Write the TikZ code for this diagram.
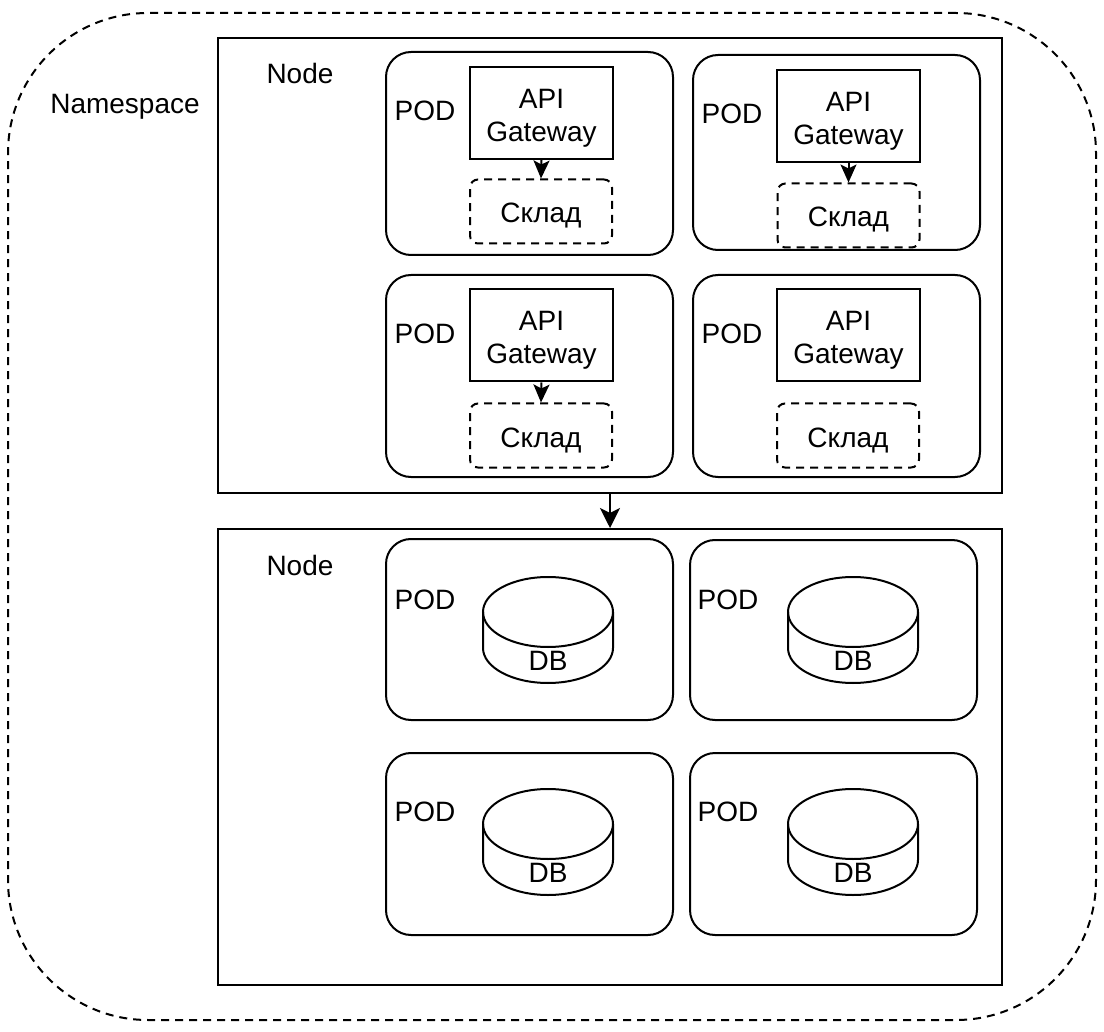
\documentclass[tikz,border=0pt]{standalone}
\usepackage{fontspec}
\setmainfont{Liberation Sans}
\usetikzlibrary{fit,arrows.meta}

\begin{document}
\begin{tikzpicture}[x=0.5pt,y=-0.5pt,line width=1pt,font=\fontsize{14}{16.5}\selectfont,
  nsbox/.style={draw,dash pattern=on 4pt off 3pt,rounded corners=70pt,inner sep=0pt},
  nodebox/.style={draw,inner sep=0pt},
  podbox/.style={draw,rounded corners=12.5pt,inner sep=0pt},
  gwbox/.style={draw,inner sep=0pt,minimum width=71.5pt,minimum height=46pt,
    label={[align=center,yshift=-2.5pt]center:API\\Gateway}},
  storebox/.style={draw,dash pattern=on 4pt off 3pt,rounded corners=4pt,inner sep=0pt,minimum width=71pt,minimum height=32pt,text height=11.5pt,text depth=0pt},
  smallarr/.style={-{Stealth[length=9pt,width=8pt,inset=2pt]}},
  bigarr/.style={-{Stealth[length=10pt,width=10pt,inset=2.5pt]}}]
\useasboundingbox (0,0) rectangle (1104,1032);
% namespace and the two nodes
\node[nsbox,fit={(8,13)(1096,1020)}] (ns) {};
\node at (125,107) {Namespace};
\node[nodebox,fit={(218,38)(1002,493)}] (nd1) {};
\node[nodebox,fit={(218,529)(1002,985)}] (nd2) {};
\node at (300,73) {Node};
\node at (300,565) {Node};
\draw[bigarr] (nd1.south) -- (nd2.north);
% pods
\foreach \n/\xa/\ya/\xb/\yb in %
{p1/386/52/673/255,p2/693/55/980/250,p3/386/275/673/477,p4/693/275/980/477,
 p5/386/539/673/720,p6/690/540/977/720,p7/386/753/673/935,p8/690/753/977/935} {
   \node[podbox,fit={(\xa,\ya)(\xb,\yb)}] (\n) {};
}
\foreach \x/\y in %
{425/111,732/114,425/334,732/334,425/600,728/600,425/812,728/812} {
   \node at (\x,\y) {POD};
}
% gateways and stores
\foreach \n/\x/\y in %
{1/541.5/113,2/848.5/116,3/541.5/335.5,4/848.5/335.5} {
   \node[gwbox] (gw\n) at (\x,\y) {};
}
\foreach \n/\x/\y in %
{1/541/211.5,2/848.5/215.5,3/541/435.5,4/848/435.5} {
   \node[storebox] (sk\n) at (\x,\y) {Склад};
}
\foreach \n in {1,2,3} {
   \draw[smallarr] (gw\n.south) -- (sk\n.north);
}
% databases
\foreach \n/\x/\y in %
{1/548/630,2/853/630,3/548/842,4/853/842} {
   \draw (\x,\y-18) ellipse [x radius=65,y radius=35];
   \draw (\x-65,\y-18) -- (\x-65,\y+18) arc [start angle=180,end angle=0,x radius=65,y radius=35] -- (\x+65,\y-18);
   \node (db\n) at (\x,\y+31) {DB};
}
\end{tikzpicture}
\end{document}
